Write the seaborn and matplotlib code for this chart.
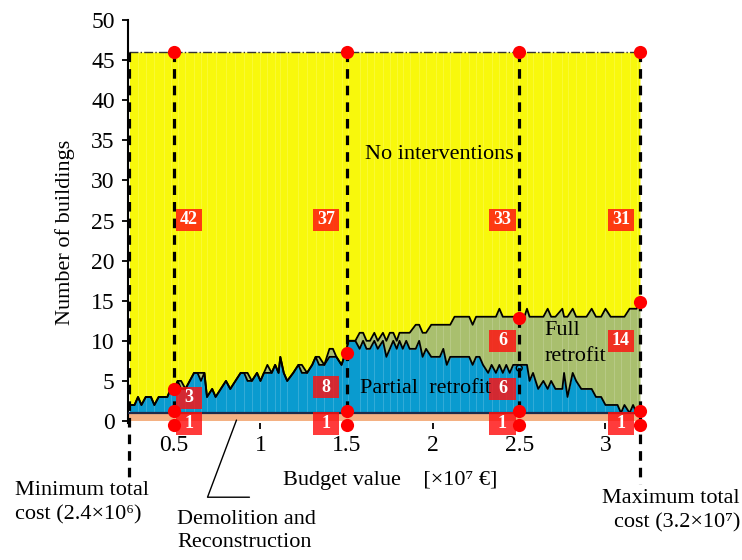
import numpy as np
import pandas as pd
import matplotlib
matplotlib.use("Agg")
import matplotlib.pyplot as plt
from matplotlib.patches import Rectangle
import seaborn as sns

# budget values [x10^7 EUR] and number of buildings per intervention
budget = [0.24, 0.27, 0.29, 0.31, 0.335, 0.365, 0.385, 0.41, 0.44, 0.46,
          0.48, 0.50, 0.52, 0.54, 0.565, 0.59, 0.615, 0.635, 0.655, 0.675,
          0.69, 0.72, 0.74, 0.77, 0.80, 0.825, 0.855, 0.885, 0.905, 0.925,
          0.95, 0.98, 1.00, 1.02, 1.04, 1.065, 1.085, 1.105, 1.115, 1.135,
          1.155, 1.19, 1.22, 1.24, 1.27, 1.30, 1.32, 1.34, 1.37, 1.40,
          1.42, 1.44, 1.47, 1.50, 1.51, 1.55, 1.575, 1.595, 1.615, 1.635,
          1.66, 1.68, 1.71, 1.73, 1.75, 1.77, 1.79, 1.806, 1.825, 1.845,
          1.865, 1.90, 1.92, 1.94, 1.96, 1.99, 2.02, 2.04, 2.06, 2.08,
          2.10, 2.125, 2.155, 2.18, 2.21, 2.23, 2.25, 2.27, 2.29, 2.32,
          2.34, 2.365, 2.385, 2.405, 2.425, 2.445, 2.465, 2.48, 2.50, 2.53,
          2.545, 2.56, 2.58, 2.61, 2.64, 2.665, 2.685, 2.71, 2.75, 2.76,
          2.78, 2.81, 2.83, 2.86, 2.89, 2.92, 2.945, 2.975, 3.00, 3.03,
          3.05, 3.07, 3.09, 3.11, 3.14, 3.16, 3.18, 3.20]
partial = [1, 1, 2, 1, 2, 2, 1, 2, 2, 2,
           3, 3, 4, 3, 3, 4, 5, 5, 4, 5,
           2, 3, 2, 3, 4, 3, 4, 5, 5, 4,
           4, 5, 4, 5, 5, 5, 6, 5, 7, 5,
           4, 5, 6, 5, 5, 6, 7, 6, 6, 7,
           7, 7, 6, 8, 9, 9, 8, 9, 8, 8,
           9, 8, 9, 7, 8, 9, 8, 9, 8, 9,
           8, 8, 9, 7, 8, 7, 7, 7, 8, 6,
           7, 7, 7, 7, 7, 6, 7, 7, 6, 5,
           6, 5, 6, 5, 6, 5, 6, 6, 6, 6,
           6, 4, 5, 3, 4, 3, 4, 3, 3, 5,
           2, 5, 4, 3, 3, 3, 2, 2, 1, 1,
           1, 1, 0, 1, 0, 1, 0, 0]
full = [0, 0, 0, 0, 0, 0, 0, 0, 0, 0,
        0, 0, 0, 1, 0, 0, 0, 0, 1, 0,
        0, 0, 0, 0, 0, 0, 0, 0, 0, 1,
        0, 0, 0, 0, 1, 0, 0, 0, 0, 0,
        0, 0, 0, 1, 0, 0, 0, 1, 0, 1,
        1, 0, 0, 0, 0, 0, 2, 1, 1, 1,
        1, 1, 1, 2, 2, 1, 1, 1, 2, 1,
        2, 3, 2, 3, 2, 4, 4, 4, 3, 5,
        4, 5, 5, 5, 5, 5, 5, 5, 6, 7,
        6, 7, 7, 7, 6, 7, 6, 6, 6, 6,
        7, 8, 7, 9, 8, 10, 8, 9, 10, 7,
        10, 8, 8, 9, 9, 10, 10, 10, 12, 11,
        11, 11, 12, 11, 13, 12, 13, 14]
demolition = [1] * len(budget)
total_buildings = 46

# selected budgets and their labels
sel_budget = [0.5, 1.5, 2.5, 3.2]
label_x = [0.587, 1.38, 2.403, 3.09]
lab_none = ["42", "37", "33", "31"]
lab_partial = ["3", "8", "6"]
lab_partial_y = [2.9, 4.2, 4.0]
lab_full = ["6", "14"]
lab_demol = ["1", "1", "1", "1"]
dot_mid = [4.0, 8.5, 12.8, 14.9]

df = pd.DataFrame({"budget": budget, "partial": partial, "full": full,
                   "demolition": demolition})
df["blue_top"] = df["demolition"] + df["partial"]
df["green_top"] = df["blue_top"] + df["full"]

sns.set_theme(style="ticks")
plt.rcParams["font.family"] = ["Liberation Serif", "DejaVu Serif"]
plt.rcParams["text.color"] = "black"
plt.rcParams["axes.labelcolor"] = "black"

fig = plt.figure(figsize=(7.42, 5.6), dpi=100)
ax = fig.add_axes([0.1725, 0.2446, 0.69, 0.7197])

yellow = "#F8F80C"
blue = "#0A9BCF"
green = "#A9BF6E"
orange = "#F4B183"

x = df["budget"]
ax.fill_between([0.24, 3.2], 0, 1, color=orange, lw=0, zorder=1)
ax.fill_between(x, 1, df["blue_top"], color=blue, lw=0, zorder=1)
ax.fill_between(x, df["blue_top"], df["green_top"], color=green, lw=0, zorder=1)
ax.fill_between(x, df["green_top"], total_buildings, color=yellow, lw=0, zorder=1)
ax.vlines(x[::2], 1, total_buildings, color="white", alpha=0.2, lw=0.6,
          zorder=1.5)

sns.lineplot(data=df, x="budget", y="blue_top", color="black", lw=1.3,
             estimator=None, ax=ax, zorder=3)
sns.lineplot(data=df, x="budget", y="green_top", color="black", lw=1.3,
             estimator=None, ax=ax, zorder=3)
ax.plot([0.24, 3.2], [1, 1], color="#1F2A4A", lw=1.6, zorder=3)
ax.plot([0.24, 3.2], [total_buildings] * 2, color="#333333", lw=1.0,
        ls="-.", zorder=3)

# dashed budget lines
for b in sel_budget[:3]:
    ax.plot([b, b], [total_buildings, 1.3], color="black", lw=2.3,
            ls=(0, (3, 2.2)), zorder=4)
ax.plot([0.24, 0.24], [total_buildings, -7.0], color="black", lw=2.3,
        ls=(0, (3, 2.2)), zorder=4, clip_on=False)
ax.plot([3.2, 3.2], [total_buildings, -7.8], color="black", lw=2.3,
        ls=(0, (3, 2.2)), zorder=4, clip_on=False)

# label boxes
def box(xc, yc, txt, h=2.75):
    w = 0.151
    ax.add_patch(Rectangle((xc - w / 2, yc - h / 2), w, h, color="#FF1010",
                           alpha=0.82, lw=0, zorder=5, clip_on=False))
    ax.text(xc, yc, txt, color="white", fontsize=13, fontweight="bold",
            ha="center", va="center", zorder=6)

for xc, t in zip(label_x, lab_none):
    box(xc, 25.1, t)
for xc, yc, t in zip(label_x[:3], lab_partial_y, lab_partial):
    box(xc, yc, t)
for xc, t in zip(label_x[2:], lab_full):
    box(xc, 10.0, t)
for xc, t in zip(label_x, lab_demol):
    box(xc, -0.35, t, h=2.9)

# red dots
dot = dict(s=90, color="#FF0000", zorder=7, lw=0, clip_on=False)
ax.scatter(sel_budget, [total_buildings] * 4, **dot)
ax.scatter(sel_budget, dot_mid, **dot)
ax.scatter(sel_budget, [1.3] * 4, **dot)
ax.scatter(sel_budget, [-0.5] * 4, **dot)
ax.scatter([2.5], [6.6], s=18, facecolor="none", edgecolor="black", lw=1,
           zorder=7)

# region texts
ax.text(2.04, 33.2, "No interventions", fontsize=16, ha="center",
        va="center", zorder=6)
ax.text(1.957, 4.1, "Partial  retrofit", fontsize=16, ha="center",
        va="center", zorder=6)
ax.text(2.645, 9.7, "Full\nretrofit", fontsize=16, ha="left", va="center",
        linespacing=1.5, zorder=6)

ax.set_xlim(0.232, 3.2)
ax.set_ylim(-0.25, 50)
ax.set_xticks([0.5, 1, 1.5, 2, 2.5, 3])
ax.set_xticklabels(["0.5", "1", "1.5", "2", "2.5", "3"])
ax.set_yticks(range(0, 51, 5))
ax.tick_params(axis="both", labelsize=17, direction="out", length=4.5,
               width=1.3, colors="black")
ax.tick_params(axis="x", pad=4)
ax.tick_params(axis="y", pad=5)
for s in ["top", "right", "bottom"]:
    ax.spines[s].set_visible(False)
ax.spines["left"].set_linewidth(1.5)
ax.spines["left"].set_color("black")
ax.set_ylabel("Number of buildings", fontsize=16)
ax.yaxis.set_label_coords(-0.104, 0.474)
ax.set_xlabel("Budget value    [\u00d710\u2077 \u20ac]", fontsize=16)
ax.xaxis.set_label_coords(0.512, -0.12)

# leader line to demolition band
ax.plot([0.861, 0.693, 0.936], [0.12, -9.5, -9.5], color="black", lw=1.0,
        clip_on=False)

fig.text(15 / 742, 1 - 503 / 560, "Minimum total\ncost (2.4\u00d710\u2076)",
         fontsize=16, ha="left", va="center", linespacing=1.35)
fig.text(177 / 742, 1 - 531 / 560, "Demolition and\nReconstruction",
         fontsize=16, ha="left", va="center", linespacing=1.35)
fig.text(740 / 742, 1 - 511 / 560, "Maximum total\ncost (3.2\u00d710\u2077)",
         fontsize=16, ha="right", va="center", multialignment="right",
         linespacing=1.35)

fig.savefig("out.png", dpi=100)
